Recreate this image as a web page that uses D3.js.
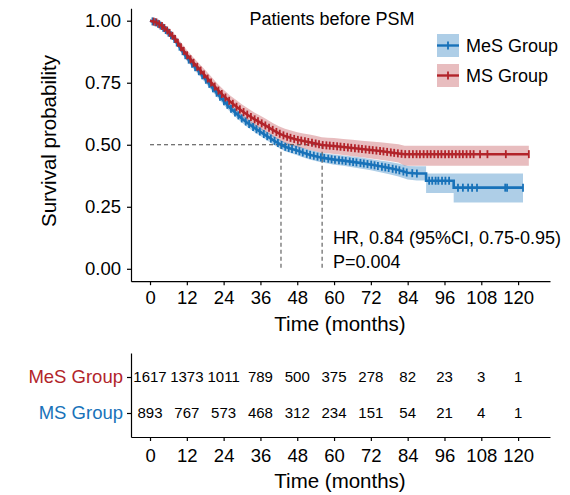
<!DOCTYPE html>
<html>
<head>
<meta charset="utf-8">
<script src="https://cdn.jsdelivr.net/npm/d3@7"></script>
<style>
  body { margin: 0; background: #fff; }
  svg { font-family: "Liberation Sans", Arial, Helvetica, sans-serif; }
</style>
</head>
<body>
<svg id="chart"></svg>
<script>
// ---- data ----
const groups = ["MeS Group", "MS Group"];
const timeTicks = [0, 12, 24, 36, 48, 60, 72, 84, 96, 108, 120];
const survTicks = [0, 0.25, 0.5, 0.75, 1];

// MeS Group (blue)
const blueTime = [0, 2, 4, 6, 8, 10, 12, 14, 16, 18, 20, 22, 24, 26, 28, 30, 32, 34, 36, 38, 40, 42, 44, 46, 48, 50, 52, 54, 56, 58, 60, 63, 66, 69, 72, 75, 78, 81, 84, 87, 90, 90, 99, 99, 121.6];
const blueSurv = [1, 0.993, 0.975, 0.952, 0.925, 0.888, 0.852, 0.822, 0.795, 0.765, 0.735, 0.705, 0.677, 0.65, 0.627, 0.605, 0.586, 0.568, 0.552, 0.536, 0.52, 0.505, 0.492, 0.484, 0.477, 0.468, 0.46, 0.454, 0.448, 0.444, 0.44, 0.436, 0.431, 0.426, 0.42, 0.413, 0.406, 0.398, 0.387, 0.384, 0.384, 0.355, 0.355, 0.327, 0.327];
const blueLow = [1, 0.989, 0.968, 0.943, 0.914, 0.876, 0.839, 0.808, 0.78, 0.75, 0.72, 0.69, 0.661, 0.634, 0.611, 0.589, 0.569, 0.551, 0.535, 0.519, 0.502, 0.487, 0.474, 0.466, 0.458, 0.449, 0.441, 0.434, 0.428, 0.424, 0.419, 0.415, 0.409, 0.403, 0.397, 0.389, 0.381, 0.372, 0.36, 0.356, 0.356, 0.306, 0.306, 0.267, 0.267];
const blueHigh = [1, 0.997, 0.982, 0.961, 0.936, 0.9, 0.865, 0.836, 0.81, 0.78, 0.75, 0.72, 0.693, 0.666, 0.643, 0.621, 0.603, 0.585, 0.569, 0.553, 0.538, 0.523, 0.51, 0.502, 0.496, 0.487, 0.479, 0.474, 0.468, 0.464, 0.461, 0.457, 0.453, 0.449, 0.443, 0.437, 0.431, 0.424, 0.414, 0.413, 0.413, 0.384, 0.384, 0.384, 0.384];
const blueCensor = [0.8, 1.7, 2.6, 3.4, 4.3, 5.1, 6.0, 6.8, 7.9, 8.7, 9.6, 10.6, 11.5, 12.6, 13.7, 14.7, 15.9, 17.0, 18.2, 19.3, 20.5, 21.7, 22.8, 24.1, 25.2, 26.4, 27.7, 28.8, 29.9, 31.2, 32.3, 33.6, 34.7, 35.8, 37.1, 38.2, 39.4, 40.6, 41.7, 42.9, 44.1, 45.2, 46.3, 47.6, 48.7, 49.8, 51.1, 52.2, 53.4, 54.6, 55.7, 56.8, 58.1, 59.2, 60.3, 61.6, 62.7, 63.8, 65.1, 66.2, 67.3, 68.6, 69.7, 70.9, 72.1, 73.2, 74.3, 75.6, 76.7, 77.8, 79.1, 80.2, 81.3, 82.6, 83.7, 85.5, 87.0, 91.0, 92.0, 93.1, 94.0, 95.2, 96.3, 97.5, 100.4, 102.0, 103.7, 105.0, 106.6, 115.8, 116.4, 121.6];

// MS Group (red)
const redTime = [0, 2, 4, 6, 8, 10, 12, 14, 16, 18, 20, 22, 24, 26, 28, 30, 32, 34, 36, 38, 40, 42, 44, 46, 48, 50, 52, 54, 56, 58, 60, 63, 66, 69, 72, 75, 78, 81, 83, 123.5];
const redSurv = [1, 0.994, 0.978, 0.956, 0.93, 0.895, 0.862, 0.833, 0.806, 0.778, 0.75, 0.722, 0.697, 0.675, 0.655, 0.636, 0.619, 0.603, 0.589, 0.575, 0.56, 0.546, 0.535, 0.527, 0.52, 0.515, 0.51, 0.505, 0.499, 0.497, 0.495, 0.491, 0.487, 0.483, 0.479, 0.475, 0.47, 0.465, 0.462, 0.462];
const redLow = [1, 0.989, 0.968, 0.943, 0.914, 0.876, 0.842, 0.812, 0.784, 0.755, 0.726, 0.698, 0.672, 0.65, 0.629, 0.61, 0.592, 0.576, 0.561, 0.547, 0.532, 0.517, 0.506, 0.497, 0.49, 0.485, 0.479, 0.474, 0.468, 0.466, 0.463, 0.459, 0.454, 0.45, 0.445, 0.44, 0.434, 0.428, 0.415, 0.415];
const redHigh = [1, 0.999, 0.988, 0.969, 0.946, 0.914, 0.882, 0.854, 0.828, 0.801, 0.774, 0.746, 0.722, 0.7, 0.681, 0.662, 0.646, 0.63, 0.617, 0.603, 0.588, 0.575, 0.564, 0.557, 0.55, 0.545, 0.541, 0.536, 0.53, 0.528, 0.527, 0.523, 0.52, 0.516, 0.513, 0.51, 0.506, 0.502, 0.496, 0.496];
const redCensor = [1.2, 2.1, 3.0, 3.9, 4.7, 5.6, 6.4, 7.3, 8.2, 9.1, 10.1, 11.0, 12.1, 13.2, 14.2, 15.4, 16.5, 17.6, 18.8, 19.9, 21.1, 22.3, 23.4, 24.6, 25.8, 27.0, 28.2, 29.3, 30.5, 31.7, 32.9, 34.1, 35.2, 36.4, 37.6, 38.8, 40.0, 41.2, 42.3, 43.5, 44.7, 45.8, 47.0, 48.2, 49.3, 50.5, 51.6, 52.8, 54.0, 55.1, 56.3, 57.5, 58.6, 59.8, 61.0, 62.1, 63.3, 64.5, 65.6, 66.8, 68.0, 69.1, 70.3, 71.5, 72.6, 73.8, 75.0, 76.1, 77.3, 78.5, 79.6, 80.8, 82.0, 83.2, 84.5, 85.7, 86.9, 88.0, 89.2, 90.4, 91.5, 92.7, 93.9, 95.0, 96.2, 97.4, 98.5, 99.7, 100.9, 102.0, 103.2, 104.4, 105.5, 107.6, 110.0, 116.0, 123.5];

const medians = [42.7, 56.1];
const riskMeS = [1617, 1373, 1011, 789, 500, 375, 278, 82, 23, 3, 1];
const riskMS = [893, 767, 573, 468, 312, 234, 151, 54, 21, 4, 1];

const blue = "#1872B9";
const red = "#B2242A";

// ---- layout ----
const width = 570, height = 495;
const svg = d3.select("#chart").attr("width", width).attr("height", height);

const x = d3.scaleLinear().domain([-6.2, 130.4]).range([131, 550]);
const y = d3.scaleLinear().domain([-0.05, 1.05]).range([281.2, 8.3]);

// confidence bands
function band(time, low, high) {
  return d3.area()
    .x((d, i) => x(time[i]))
    .y0((d, i) => y(low[i]))
    .y1((d, i) => y(high[i]))(time);
}
svg.append("path").attr("d", band(redTime, redLow, redHigh)).attr("fill", red).attr("fill-opacity", 0.3);
svg.append("path").attr("d", band(blueTime, blueLow, blueHigh)).attr("fill", blue).attr("fill-opacity", 0.35);

// median lines
const yHalf = y(0.5);
svg.append("line")
  .attr("x1", x(0)).attr("x2", x(d3.max(medians)))
  .attr("y1", yHalf).attr("y2", yHalf)
  .attr("stroke", "#444").attr("stroke-dasharray", "4,3");
medians.forEach(m => {
  svg.append("line")
    .attr("x1", x(m)).attr("x2", x(m))
    .attr("y1", yHalf).attr("y2", y(0))
    .attr("stroke", "#444").attr("stroke-dasharray", "4,3");
});

// survival value along the drawn curve
function survAt(time, surv, t) {
  const i = Math.max(0, d3.bisectRight(time, t) - 1);
  if (i >= time.length - 1) return surv[time.length - 1];
  const f = (t - time[i]) / (time[i + 1] - time[i]);
  return surv[i] + f * (surv[i + 1] - surv[i]);
}

function curve(time, surv, censor, color) {
  const line = d3.line().x((d, i) => x(time[i])).y((d, i) => y(surv[i]));
  svg.append("path").attr("d", line(time))
    .attr("fill", "none").attr("stroke", color).attr("stroke-width", 2.6);
  svg.append("g").selectAll("line")
    .data(censor).enter().append("line")
    .attr("x1", d => x(d)).attr("x2", d => x(d))
    .attr("y1", d => y(survAt(time, surv, d)) - 4)
    .attr("y2", d => y(survAt(time, surv, d)) + 4)
    .attr("stroke", color).attr("stroke-width", 1.8);
}
curve(blueTime, blueSurv, blueCensor, blue);
curve(redTime, redSurv, redCensor, red);

// axes
const xAxis = svg.append("g")
  .attr("transform", "translate(0," + y(-0.05) + ")")
  .call(d3.axisBottom(x).tickValues(timeTicks).tickSize(4).tickSizeOuter(0).tickPadding(6));
const yAxis = svg.append("g")
  .attr("transform", "translate(" + x(-6.2) + ",0)")
  .call(d3.axisLeft(y).tickValues(survTicks).tickFormat(d3.format(".2f")).tickSize(4).tickSizeOuter(0).tickPadding(6));
[xAxis, yAxis].forEach(a => {
  a.selectAll("text").style("font-size", "18.5px").attr("fill", "#000");
  a.selectAll("line, path").attr("stroke", "#000").attr("stroke-width", 1.2);
});

svg.append("text").attr("x", 340).attr("y", 331).attr("text-anchor", "middle")
  .style("font-size", "20.5px").text("Time (months)");
svg.append("text").attr("transform", "translate(56,141) rotate(-90)").attr("text-anchor", "middle")
  .style("font-size", "20.5px").text("Survival probability");
svg.append("text").attr("x", 332).attr("y", 25).attr("text-anchor", "middle")
  .style("font-size", "18px").text("Patients before PSM");

svg.append("text").attr("x", 333).attr("y", 244).style("font-size", "18px")
  .text("HR, 0.84 (95%CI, 0.75-0.95)");
svg.append("text").attr("x", 333).attr("y", 268).style("font-size", "18px")
  .text("P=0.004");

// legend
const legend = svg.append("g");
[[groups[0], blue, 0.35], [groups[1], red, 0.3]].forEach(([name, color, op], i) => {
  const g = legend.append("g").attr("transform", "translate(437," + (34 + i * 30) + ")");
  g.append("rect").attr("width", 22).attr("height", 23).attr("fill", color).attr("fill-opacity", op);
  g.append("line").attr("x1", 0).attr("x2", 22).attr("y1", 11.5).attr("y2", 11.5)
    .attr("stroke", color).attr("stroke-width", 2.4);
  g.append("line").attr("x1", 11).attr("x2", 11).attr("y1", 7.5).attr("y2", 15.5)
    .attr("stroke", color).attr("stroke-width", 1.8);
  g.append("text").attr("x", 29).attr("y", 18).style("font-size", "18px").text(name);
});

// risk table
const ty = d3.scalePoint().domain(groups).range([353, 437]).padding(0.667);
const rows = [riskMeS, riskMS];
rows.forEach((vals, r) => {
  svg.append("g").selectAll("text")
    .data(vals).enter().append("text")
    .attr("x", (d, i) => x(timeTicks[i]))
    .attr("y", ty(groups[r]))
    .attr("dy", "0.36em")
    .attr("text-anchor", "middle")
    .style("font-size", "15px")
    .text(d => d);
});
const tyAxis = svg.append("g")
  .attr("transform", "translate(" + x(-6.2) + ",0)")
  .call(d3.axisLeft(ty).tickSize(4).tickSizeOuter(0).tickPadding(4));
tyAxis.selectAll("text").style("font-size", "18.5px")
  .attr("fill", (d, i) => i === 0 ? red : blue);
const txAxis = svg.append("g")
  .attr("transform", "translate(0,437)")
  .call(d3.axisBottom(x).tickValues(timeTicks).tickSize(4).tickSizeOuter(0).tickPadding(8));
txAxis.selectAll("text").style("font-size", "18.5px").attr("fill", "#000");
[tyAxis, txAxis].forEach(a => a.selectAll("line, path").attr("stroke", "#000").attr("stroke-width", 1.2));
svg.append("text").attr("x", 340).attr("y", 488).attr("text-anchor", "middle")
  .style("font-size", "20.5px").text("Time (months)");
</script>
</body>
</html>
